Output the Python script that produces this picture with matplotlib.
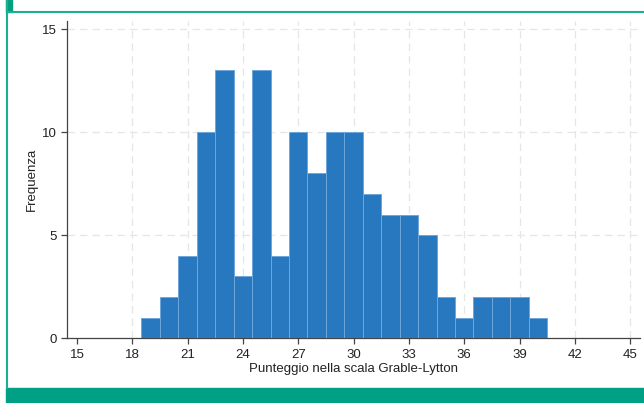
import matplotlib.pyplot as plt
from matplotlib.patches import Rectangle
from matplotlib.lines import Line2D

plt.rcParams['font.family'] = ['Liberation Sans', 'DejaVu Sans']

# bin centres (width 1) and frequencies
bin_centres = [19, 20, 21, 22, 23, 24, 25, 26, 27, 28, 29, 30, 31,
               32, 33, 34, 35, 36, 37, 38, 39, 40]
frequenze = [1, 2, 4, 10, 13, 3, 13, 4, 10, 8, 10, 10, 7,
             6, 6, 5, 2, 1, 2, 2, 2, 1]
x_ticks = [15, 18, 21, 24, 27, 30, 33, 36, 39, 42, 45]
y_ticks = [0, 5, 10, 15]

fig = plt.figure(figsize=(6.44, 4.03), dpi=100)
ax = fig.add_axes([0.104, 0.161, 0.890, 0.787])

ax.bar(bin_centres, frequenze, width=1, color='#2878bf',
       edgecolor='#6fa6da', linewidth=0.7, zorder=3)

ax.set_xlim(14.46, 45.54)
ax.set_ylim(0, 15.4)
ax.set_xticks(x_ticks)
ax.set_yticks(y_ticks)
ax.grid(True, ls=(0, (6, 4)), color='#e6e6e6', lw=0.9, zorder=0)
ax.get_xgridlines()[0].set_visible(False)

for s in ['top', 'right']:
    ax.spines[s].set_visible(False)
for s in ['left', 'bottom']:
    ax.spines[s].set_color('#444444')
    ax.spines[s].set_linewidth(0.9)
ax.tick_params(direction='out', length=4, width=0.9, color='#444444',
               labelsize=9.5, labelcolor='#222222')

ax.set_xlabel('Punteggio nella scala Grable-Lytton', fontsize=9.5,
              color='#222222', labelpad=2)
ax.set_ylabel('Frequenza', fontsize=9.5, color='#222222', labelpad=3)

# page frame decorations
teal = '#1aae92'
fig.add_artist(Line2D([6.5 / 644, 6.5 / 644], [15 / 403, 1], color=teal,
                      lw=1.5, transform=fig.transFigure))
fig.add_artist(Line2D([6.5 / 644, 1], [1 - 12 / 403, 1 - 12 / 403],
                      color=teal, lw=1.5, transform=fig.transFigure))
fig.add_artist(Rectangle((6 / 644, 1 - 12 / 403), 6 / 644, 12 / 403,
                         color='#00a07f', transform=fig.transFigure))
fig.add_artist(Rectangle((6 / 644, 0), 1, 15 / 403, color='#00a084',
                         transform=fig.transFigure))

fig.savefig('out.png', dpi=100)
